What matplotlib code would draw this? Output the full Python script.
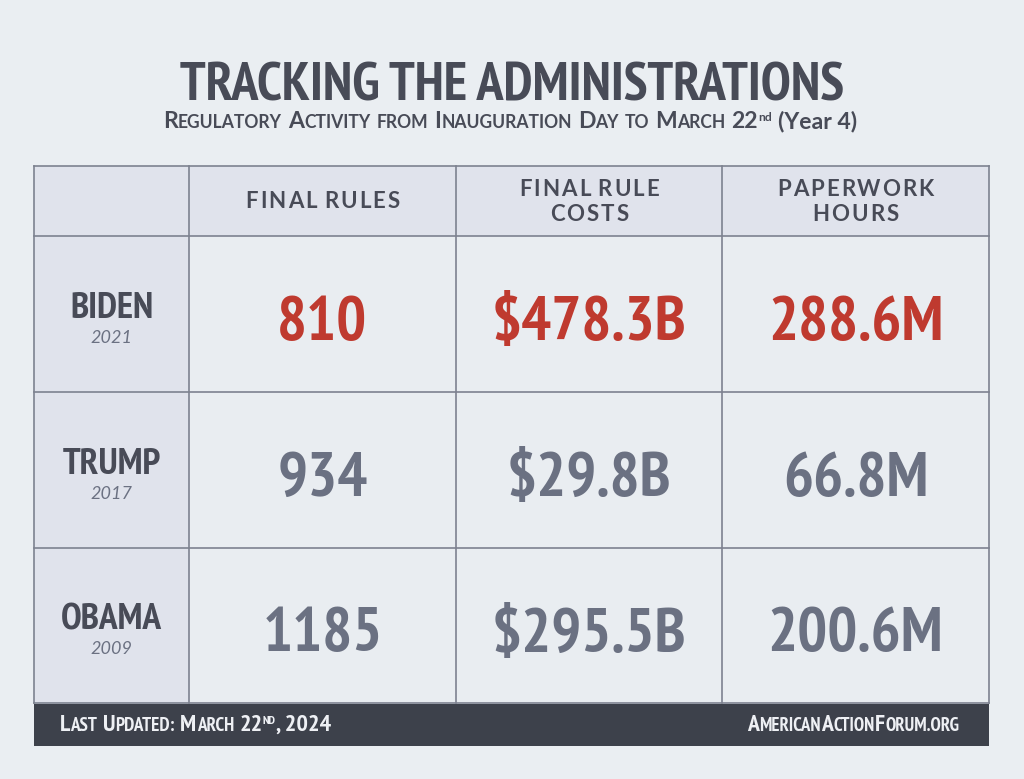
import matplotlib
matplotlib.use('Agg')
import matplotlib.pyplot as plt
from matplotlib import font_manager
from matplotlib import patheffects as pe
from matplotlib.patches import Rectangle

# chart data
title = 'TRACKING THE ADMINISTRATIONS'
subtitle = 'Regulatory Activity from Inauguration Day to March 22'
columns = ['FINAL RULES', 'FINAL RULE\nCOSTS', 'PAPERWORK\nHOURS']
admins = ['BIDEN', 'TRUMP', 'OBAMA']
years = ['2021', '2017', '2009']
final_rules = ['810', '934', '1185']
rule_costs = ['$478.3B', '$29.8B', '$295.5B']
paperwork = ['288.6M', '66.8M', '200.6M']
footer_left = 'Last Updated: March 22'
footer_right = 'AmericanActionForum.org'


def is_bold(w):
    if isinstance(w, str):
        return w in ('bold', 'heavy', 'black', 'extra bold', 'demibold', 'semibold')
    return w >= 600


# the narrowest display face we can find: a "Narrow" family first
fonts = font_manager.fontManager.ttflist
narrow = [f for f in fonts if 'Narrow' in f.name and f.style == 'normal']
cond = [f for f in fonts if (f.stretch in ('condensed', 'semi-condensed', 'extra-condensed')
                             or 'Condensed' in f.name) and f.style == 'normal']
FAKE_BOLD = False
pick = [f for f in narrow if is_bold(f.weight)]
if pick:
    fname = pick[0].fname
elif narrow:
    fname = narrow[0].fname
    FAKE_BOLD = True
else:
    pick = [f for f in cond if is_bold(f.weight)]
    fname = pick[0].fname if pick else None
NARROW = (dict(fontproperties=font_manager.FontProperties(fname=fname)) if fname
          else dict(family='DejaVu Sans', weight='bold'))

BG = '#eaeef2'
CELL = '#e9edf1'
HEAD = '#e0e3ec'
LINE = '#7d8290'
DARK = '#484b57'
RED = '#bf3a2f'
GREY = '#6b7182'
FOOT = '#3d414b'

fig = plt.figure(figsize=(10.24, 7.79), dpi=100, facecolor=BG)
ax = fig.add_axes([0, 0, 1, 1])
ax.set_xlim(0, 1024)
ax.set_ylim(779, 0)
ax.axis('off')
r = fig.canvas.get_renderer()


def ntext(x, y, s, size, color, stroke=1.6, **kw):
    # narrow display text, thickened when only a regular face exists
    t = ax.text(x, y, s, color=color, **NARROW, **kw)
    t.set_fontsize(size)
    if FAKE_BOLD:
        t.set_path_effects([pe.withStroke(linewidth=stroke, foreground=color)])
    return t


def width_of(txt, size, **kw):
    if 'narrow' in kw:
        t = ax.text(0, 0, txt, **NARROW)
        t.set_fontsize(size)
    else:
        t = ax.text(0, 0, txt, fontsize=size, **kw)
    w = t.get_window_extent(r).width
    t.remove()
    return w


def fit(txt, target, size=40, **kw):
    # font size that makes txt about target pixels wide
    return size * target / width_of(txt, size, **kw)


def caps_segments(s, big, small):
    segs = []
    for i, word in enumerate(s.split(' ')):
        if i:
            segs.append((' ', big, 0))
        run, low_run = '', None
        for ch in word:
            low = ch.islower() if ch.isalpha() else bool(low_run)
            if run and low != low_run:
                segs.append((run.upper(), small if low_run else big, 0))
                run = ''
            run += ch
            low_run = low
        if run:
            segs.append((run.upper(), small if low_run else big, 0))
    return segs


def seg_widths(segs, scale, track, **kw):
    out = []
    for txt, size, dy in segs:
        if txt == ' ':
            out.append(width_of('I I', size * scale, **kw) - width_of('II', size * scale, **kw))
        else:
            out.append(width_of(txt, size * scale, **kw) + track)
    return out


def draw_segments(x, y, segs, target=None, ha='center', color=DARK, stroke=1.0, track=0.3,
                  **kw):
    scale = 1.0
    if target:
        scale = target / sum(seg_widths(segs, 1.0, track, **kw))
    widths = seg_widths(segs, scale, track, **kw)
    total = sum(widths) - track
    pos = {'center': x - total / 2, 'right': x - total, 'left': x}[ha]
    for (txt, size, dy), w in zip(segs, widths):
        if txt != ' ':
            if 'narrow' in kw:
                ntext(pos, y - dy * scale, txt, size * scale, color, stroke=stroke,
                      va='baseline', ha='left')
            else:
                ax.text(pos, y - dy * scale, txt, fontsize=size * scale, va='baseline',
                        ha='left', color=color, **kw)
        pos += w


# title and subtitle
ntext(512, 100, title, fit(title, 664, narrow=1), DARK, stroke=2.6, ha='center', va='baseline')
sub = caps_segments(subtitle, 17, 13)
sub += [('nd', 9, 7), (' ', 17, 0), ('(Year 4)', 17, 0)]
draw_segments(510, 128, sub, 696, family='Lato', weight='bold')

# table grid
xs = [34, 189, 456, 722, 989]
ys = [166, 236, 392, 548, 703]
ax.add_patch(Rectangle((xs[0], ys[0]), xs[-1] - xs[0], ys[-1] - ys[0], fc=CELL, ec='none'))
ax.add_patch(Rectangle((xs[0], ys[0]), xs[-1] - xs[0], ys[1] - ys[0], fc=HEAD, ec='none'))
ax.add_patch(Rectangle((xs[0], ys[0]), xs[1] - xs[0], ys[-1] - ys[0], fc=HEAD, ec='none'))
for x in xs:
    ax.plot([x, x], [ys[0], ys[-1]], color=LINE, lw=1.2)
for y in ys:
    ax.plot([xs[0], xs[-1]], [y, y], color=LINE, lw=1.2)

# header row, letter-spaced
for j, col in enumerate(columns):
    cx = (xs[j + 1] + xs[j + 2]) / 2
    lines = col.split('\n')
    base = [208] if len(lines) == 1 else [196, 221]
    for line, by in zip(lines, base):
        segs = [(ch, 16, 0) for ch in line]
        draw_segments(cx, by, segs, ha='center', track=2.0, family='Lato', weight='bold')

# body rows
name_size = fit('OBAMA', 101, narrow=1)
num_size = fit('$478.3B', 194, narrow=1)
values = [final_rules, rule_costs, paperwork]
for i, name in enumerate(admins):
    cy = (ys[i + 1] + ys[i + 2]) / 2
    ntext((xs[0] + xs[1]) / 2, cy + 4, name, name_size, DARK, stroke=1.6,
          ha='center', va='baseline')
    ax.text((xs[0] + xs[1]) / 2, cy + 29, years[i], ha='center', va='baseline', fontsize=13,
            family='Lato', style='italic', color=GREY)
    color = RED if i == 0 else GREY
    for j, vals in enumerate(values):
        cx = (xs[j + 1] + xs[j + 2]) / 2
        ntext(cx, cy + 26, vals[i], num_size, color, stroke=3.0, ha='center', va='baseline')

# footer
ax.add_patch(Rectangle((xs[0], 704), xs[-1] - xs[0], 42, fc=FOOT, ec='none'))
left = caps_segments(footer_left, 14, 11) + [('ND', 7, 6), (', 2024', 14, 0)]
draw_segments(60, 731, left, 272, ha='left', color='#eef0f4', narrow=1)
draw_segments(959, 731, caps_segments(footer_right, 14, 11), 213, ha='right',
              color='#eef0f4', narrow=1)

fig.savefig('out.png', dpi=100, facecolor=BG)
